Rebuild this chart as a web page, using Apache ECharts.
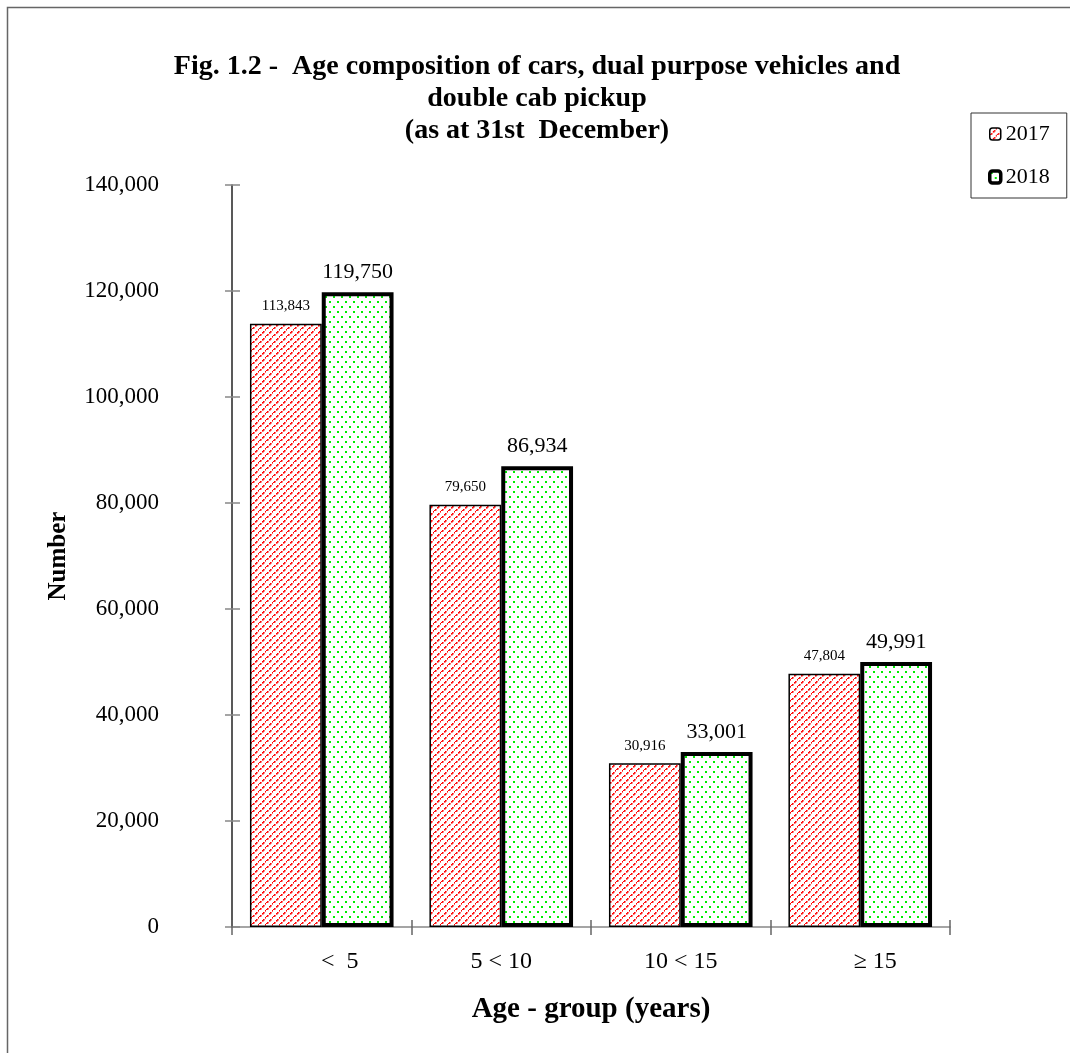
<!DOCTYPE html>
<html>
<head>
<meta charset="utf-8">
<script src="https://cdn.jsdelivr.net/npm/echarts@6/dist/echarts.min.js"></script>
<style>
html,body{margin:0;padding:0;background:#fff;}
#chart{width:1070px;height:1053px;}
</style>
</head>
<body>
<div id="chart"></div>
<script>
const categories = ['<  5', '5 < 10', '10 < 15', '\u2265 15'];
const seriesNames = ['2017', '2018'];
const values2017 = [113843, 79650, 30916, 47804];
const values2018 = [119750, 86934, 33001, 49991];
const yMin = 0, yMax = 140000, yStep = 20000;

// label horizontal shift (px of left padding) per category, styling only
const labelPad = [36, 0, 0, 30];

function makeRedPattern() {
  const c = document.createElement('canvas');
  c.width = 7; c.height = 7;
  const g = c.getContext('2d');
  g.fillStyle = '#fff'; g.fillRect(0, 0, 7, 7);
  g.fillStyle = '#ff0000';
  for (let i = 0; i < 7; i++) {
    if (i % 3 === 2) continue;
    g.fillRect(i, 6 - i, 1.6, 1.6);
  }
  return c;
}
function makeGreenPattern() {
  const c = document.createElement('canvas');
  c.width = 8; c.height = 10;
  const g = c.getContext('2d');
  g.fillStyle = '#fff'; g.fillRect(0, 0, 8, 10);
  g.fillStyle = '#00ee00';
  g.fillRect(1, 1, 2, 2);
  g.fillRect(5, 6, 2, 2);
  return c;
}

const FONT = 'Liberation Serif';
const fmt = v => v.toLocaleString('en-US');

const rich = {};
labelPad.forEach((p, i) => {
  rich['c' + i] = {fontFamily: FONT, fontSize: 24, color: '#000', padding: [0, 0, 0, p]};
});

const chart = echarts.init(document.getElementById('chart'), null, {renderer: 'canvas'});
chart.setOption({
  animation: false,
  backgroundColor: '#fff',
  graphic: [{
    type: 'rect',
    shape: {x: 7.5, y: 7.5, width: 1200, height: 1200},
    style: {fill: 'none', stroke: '#666', lineWidth: 1.5},
    silent: true
  }],
  title: {
    text: 'Fig. 1.2 -  Age composition of cars, dual purpose vehicles and\ndouble cab pickup\n(as at 31st  December)',
    left: 532, top: 46, textAlign: 'center',
    textStyle: {fontFamily: FONT, fontWeight: 'bold', fontSize: 28, lineHeight: 32, color: '#000'}
  },
  legend: {
    data: [
      {name: seriesNames[0], itemStyle: {borderWidth: 1.5}},
      {name: seriesNames[1], itemStyle: {borderWidth: 3.5}}
    ],
    orient: 'vertical',
    left: 971, top: 113,
    padding: [10, 17, 10, 17],
    itemGap: 21,
    itemWidth: 11, itemHeight: 12,
    borderColor: '#333', borderWidth: 1,
    textStyle: {fontFamily: FONT, fontSize: 22, color: '#000', lineHeight: 22}
  },
  grid: {left: 232, right: 120, top: 185, bottom: 126, outerBoundsMode: 'none'},
  xAxis: [{
    type: 'category',
    data: categories,
    axisLine: {lineStyle: {color: '#888', width: 1.5}},
    axisTick: {show: true, length: 8, lineStyle: {color: '#666', width: 1.5}},
    axisLabel: {
      fontFamily: FONT, fontSize: 24, color: '#000', margin: 23,
      formatter: (v, i) => '{c' + i + '|' + v + '}',
      rich: rich
    },
    name: 'Age - group (years)',
    nameLocation: 'middle', nameGap: 68,
    nameTextStyle: {fontFamily: FONT, fontWeight: 'bold', fontSize: 29, color: '#000'}
  }, {
    type: 'category',
    data: categories,
    position: 'bottom',
    axisLine: {show: false},
    axisTick: {show: true, inside: true, length: 7, lineStyle: {color: '#666', width: 1.5}},
    axisLabel: {show: false}
  }],
  yAxis: [{
    type: 'value',
    min: yMin, max: yMax, interval: yStep,
    axisLine: {show: true, lineStyle: {color: '#222', width: 1.5}},
    axisTick: {show: true, length: 7, lineStyle: {color: '#888', width: 1.5}},
    splitLine: {show: false},
    axisLabel: {fontFamily: FONT, fontSize: 23, color: '#000', margin: 73, formatter: v => fmt(v)},
    name: 'Number',
    nameLocation: 'middle', nameGap: 161, nameRotate: 90,
    nameTextStyle: {fontFamily: FONT, fontWeight: 'bold', fontSize: 25, color: '#000'}
  }, {
    type: 'value',
    min: yMin, max: yMax, interval: yStep,
    position: 'left',
    axisLine: {show: false},
    axisTick: {show: true, inside: true, length: 8, lineStyle: {color: '#888', width: 1.5}},
    splitLine: {show: false},
    axisLabel: {show: false}
  }],
  series: [{
    name: seriesNames[0],
    type: 'bar',
    data: values2017,
    barWidth: '40%',
    barGap: '0%',
    itemStyle: {color: {image: makeRedPattern(), repeat: 'repeat'}, borderColor: '#000', borderWidth: 1.5},
    label: {show: true, position: 'top', distance: 10, fontFamily: FONT, fontSize: 15, color: '#000', formatter: p => fmt(p.value)}
  }, {
    name: seriesNames[1],
    type: 'bar',
    data: values2018,
    barWidth: '40%',
    barGap: '0%',
    itemStyle: {color: {image: makeGreenPattern(), repeat: 'repeat'}, borderColor: '#000', borderWidth: 4},
    label: {show: true, position: 'top', distance: 9, fontFamily: FONT, fontSize: 22, color: '#000', formatter: p => fmt(p.value)}
  }]
});
</script>
</body>
</html>
